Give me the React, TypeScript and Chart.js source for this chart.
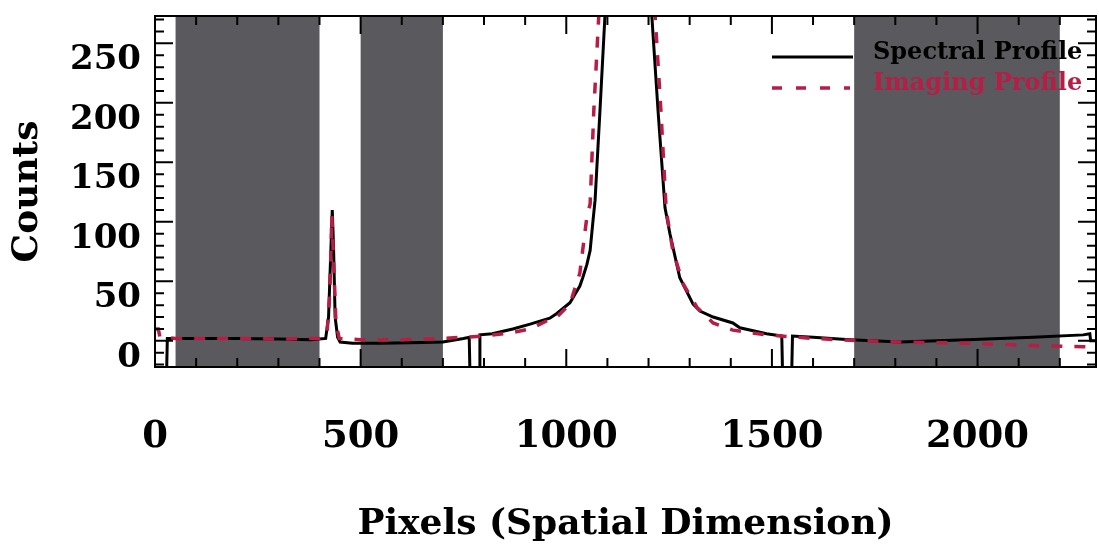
import React, { useEffect, useRef } from 'react';
import { Chart, registerables } from 'chart.js';

Chart.register(...registerables);

// ---- data ----
const spectralX = [0, 28, 30, 100, 200, 300, 380, 415, 422, 428, 431, 434, 438, 444, 450, 480, 550, 650, 700, 750, 764, 766, 788, 790, 820, 870, 912, 960, 977, 1009, 1033, 1040, 1050, 1058, 1065, 1070, 1082, 1094, 1100, 1152, 1203, 1208, 1223, 1240, 1252, 1276, 1308, 1325, 1357, 1405, 1422, 1487, 1524, 1526, 1548, 1550, 1600, 1690, 1811, 1974, 2135, 2257, 2273, 2275, 2288];
const spectralY = [-30, -30, 2, 2, 2, 1.5, 1, 2, 20, 80, 110, 80, 20, 3, -1, -2, -2, -1.5, -1, 2, 3, -30, -30, 5, 6, 10, 14, 19, 23, 32, 46, 53, 64, 76, 101, 118, 194, 273, 315, 600, 310, 273, 194, 112, 90, 53, 31, 25, 20, 15, 11, 6, 4, -30, -30, 4, 3, 1, -1, 1, 3, 5, 6, 0, 0];

const imagingX = [0, 8, 12, 50, 200, 300, 400, 418, 425, 430, 434, 440, 448, 500, 600, 700, 800, 870, 912, 960, 977, 1009, 1033, 1050, 1058, 1067, 1079, 1085, 1148, 1210, 1216, 1230, 1243, 1259, 1284, 1318, 1357, 1405, 1487, 1600, 1690, 1811, 1974, 2135, 2257, 2288];
const imagingY = [10, 10, 3, 2, 2, 1.5, 2, 5, 40, 105, 70, 15, 2, 1, 1, 2, 4, 7, 10, 18, 20, 31, 57, 104, 115, 194, 273, 320, 600, 320, 273, 194, 110, 76, 48, 28, 15, 9, 5, 2, 0.5, -1, -2, -4, -5, -5];

const bandStarts = [50, 500, 1700];
const bandEnds = [400, 700, 2200];

const xTickLabels = [0, 500, 1000, 1500, 2000];
const yTickLabels = [0, 50, 100, 150, 200, 250];
const legendLabels = ['Spectral Profile', 'Imaging Profile'];

const X_MIN = 0;
const X_MAX = 2288;
const Y_MIN = -22;
const Y_MAX = 273;

const RED = '#b81d45';
const GRAY = '#5a5a5e';
const SERIF = '"DejaVu Serif", serif';

const bandsPlugin = {
  id: 'bands',
  beforeDatasetsDraw(chart: any) {
    const { ctx, chartArea, scales } = chart;
    const xs = scales.x;
    ctx.save();
    ctx.fillStyle = GRAY;
    for (let i = 0; i < bandStarts.length; i++) {
      const a = xs.getPixelForValue(bandStarts[i]);
      const b = xs.getPixelForValue(bandEnds[i]);
      ctx.fillRect(a, chartArea.top, b - a, chartArea.bottom - chartArea.top);
    }
    ctx.restore();
  },
};

const framePlugin = {
  id: 'frame',
  afterDatasetsDraw(chart: any) {
    const { ctx, chartArea, scales } = chart;
    const { left, right, top, bottom } = chartArea;
    const xs = scales.x;
    const ys = scales.y;
    ctx.save();
    ctx.strokeStyle = '#000';
    ctx.lineWidth = 2;
    ctx.beginPath();
    for (let v = 100; v < X_MAX; v += 100) {
      const p = xs.getPixelForValue(v);
      const len = v % 500 === 0 ? 18 : 9;
      ctx.moveTo(p, bottom);
      ctx.lineTo(p, bottom - len);
      ctx.moveTo(p, top);
      ctx.lineTo(p, top + len);
    }
    for (let v = -20; v < Y_MAX; v += 10) {
      const p = ys.getPixelForValue(v);
      const len = v % 50 === 0 ? 18 : 9;
      ctx.moveTo(left, p);
      ctx.lineTo(left + len, p);
      ctx.moveTo(right, p);
      ctx.lineTo(right - len, p);
    }
    ctx.stroke();
    ctx.lineWidth = 2;
    ctx.strokeRect(left, top, right - left, bottom - top);
    ctx.restore();
  },
  afterDraw(chart: any) {
    const { ctx, chartArea } = chart;
    const x0 = chartArea.right - 324;
    ctx.save();
    ctx.strokeStyle = '#000';
    ctx.lineWidth = 3;
    ctx.setLineDash([]);
    ctx.beginPath();
    ctx.moveTo(x0, 57);
    ctx.lineTo(x0 + 81, 57);
    ctx.stroke();
    ctx.strokeStyle = RED;
    ctx.lineWidth = 3.5;
    ctx.setLineDash([10, 14]);
    ctx.beginPath();
    ctx.moveTo(x0, 88);
    ctx.lineTo(x0 + 78, 88);
    ctx.stroke();
    ctx.setLineDash([]);
    ctx.font = 'bold 24px ' + SERIF;
    ctx.textBaseline = 'alphabetic';
    ctx.textAlign = 'left';
    ctx.fillStyle = '#000';
    ctx.fillText(legendLabels[0], x0 + 101, 59);
    ctx.fillStyle = RED;
    ctx.fillText(legendLabels[1], x0 + 101, 90);
    ctx.restore();
  },
};

function noPad(s: any) {
  s.paddingTop = 0;
  s.paddingBottom = 0;
  s.paddingLeft = 0;
  s.paddingRight = 0;
}

export default function App() {
  const ref = useRef<HTMLCanvasElement | null>(null);

  useEffect(() => {
    document.body.style.margin = '0';
    const canvas = ref.current;
    if (!canvas) return;
    const chart = new Chart(canvas, {
      type: 'line',
      data: {
        datasets: [
          {
            label: legendLabels[1],
            data: imagingX.map((x, i) => ({ x, y: imagingY[i] })),
            borderColor: RED,
            borderWidth: 3.5,
            borderDash: [11, 12],
            pointRadius: 0,
            tension: 0,
            fill: false,
          },
          {
            label: legendLabels[0],
            data: spectralX.map((x, i) => ({ x, y: spectralY[i] })),
            borderColor: '#000',
            borderWidth: 3,
            pointRadius: 0,
            tension: 0,
            fill: false,
          },
        ],
      },
      options: {
        responsive: false,
        animation: false,
        layout: { padding: { left: 0, top: 16, right: 3, bottom: 0 } },
        plugins: {
          legend: { display: false },
          tooltip: { enabled: false },
        },
        scales: {
          x: {
            type: 'linear',
            min: X_MIN,
            max: X_MAX,
            grid: { display: false, drawTicks: false },
            border: { display: false },
            afterBuildTicks: (s: any) => {
              s.ticks = xTickLabels.map((v) => ({ value: v }));
            },
            ticks: {
              autoSkip: false,
              padding: 48,
              color: '#000',
              maxRotation: 0,
              minRotation: 0,
              font: { family: SERIF, size: 37, weight: 'bold' },
              callback: (v: any) => String(v),
            },
            title: {
              display: true,
              text: 'Pixels (Spatial Dimension)',
              color: '#000',
              font: { family: SERIF, size: 36, weight: 'bold', lineHeight: 1 },
              padding: { top: 0, bottom: 5 },
            },
            afterFit: (s: any) => {
              s.height = 181;
              noPad(s);
            },
          },
          y: {
            type: 'linear',
            min: Y_MIN,
            max: Y_MAX,
            grid: { display: false, drawTicks: false },
            border: { display: false },
            afterBuildTicks: (s: any) => {
              s.ticks = yTickLabels.map((v) => ({ value: v }));
            },
            ticks: {
              autoSkip: false,
              padding: 14,
              labelOffset: 17,
              color: '#000',
              font: { family: SERIF, size: 34, weight: 'bold' },
              callback: (v: any) => String(v),
            },
            title: {
              display: true,
              text: 'Counts',
              color: '#000',
              font: { family: SERIF, size: 36, weight: 'bold', lineHeight: 1 },
              padding: { top: 10, bottom: 0 },
            },
            afterFit: (s: any) => {
              s.width = 155;
              noPad(s);
            },
          },
        },
      },
      plugins: [bandsPlugin, framePlugin],
    });
    return () => chart.destroy();
  }, []);

  return (
    <div style={{ width: 1099, height: 548, background: '#fff' }}>
      <canvas ref={ref} width={1099} height={548} style={{ display: 'block' }} />
    </div>
  );
}
